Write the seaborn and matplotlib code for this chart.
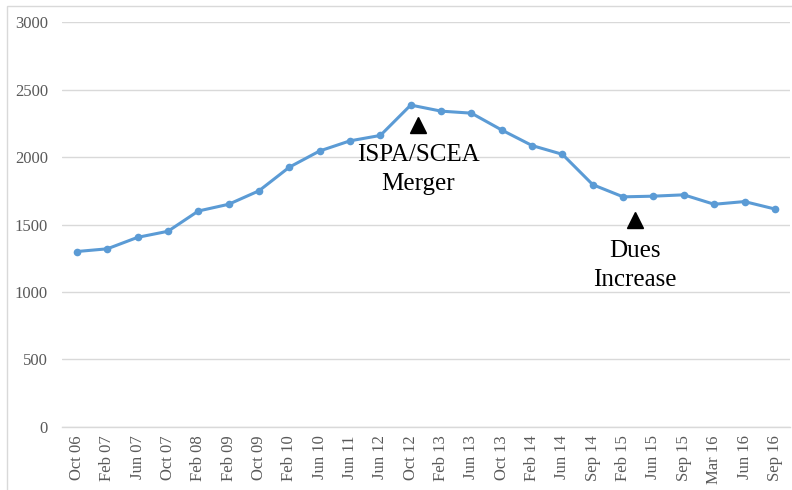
import matplotlib
matplotlib.use("Agg")
import matplotlib.pyplot as plt
import seaborn as sns
import pandas as pd
from matplotlib.patches import Rectangle

# data
periods = ["Oct 06", "Feb 07", "Jun 07", "Oct 07", "Feb 08", "Feb 09", "Oct 09", "Feb 10",
           "Jun 10", "Jun 11", "Jun 12", "Oct 12", "Feb 13", "Jun 13", "Oct 13", "Feb 14",
           "Jun 14", "Sep 14", "Feb 15", "Jun 15", "Sep 15", "Mar 16", "Jun 16", "Sep 16"]
members = [1300, 1320, 1405, 1450, 1600, 1650, 1750, 1925,
           2045, 2120, 2160, 2385, 2340, 2325, 2200, 2085,
           2020, 1795, 1705, 1710, 1720, 1650, 1670, 1615]

event_labels = ["ISPA/SCEA\nMerger", "Dues\nIncrease"]
event_x = [11.25, 18.4]
event_y = [2240, 1530]

y_ticks = [0, 500, 1000, 1500, 2000, 2500, 3000]

LINE_COLOR = "#5B9BD5"
GRID_COLOR = "#D9D9D9"
TEXT_GREY = "#595959"

sns.set_theme(style="white")
plt.rcParams["font.family"] = ["Liberation Serif", "DejaVu Serif"]

df = pd.DataFrame({"period": periods, "members": members})

fig = plt.figure(figsize=(7.92, 4.90), dpi=100)
ax = fig.add_axes([0.078, 0.1286, 0.9195, 0.8264])

sns.lineplot(data=df, x="period", y="members", ax=ax, color=LINE_COLOR,
             linewidth=2.2, marker="o", markersize=5.5, markeredgewidth=0,
             sort=False)

ax.set_ylim(0, 3000)
ax.set_xlim(-0.5, len(periods) - 0.5)
ax.set_yticks(y_ticks)
ax.set_yticklabels([str(v) for v in y_ticks], fontsize=12, color=TEXT_GREY)
ax.set_xticks(range(len(periods)))
ax.set_xticklabels(periods, rotation=90, fontsize=12, color=TEXT_GREY)
ax.tick_params(axis="y", length=0, pad=10)
ax.tick_params(axis="x", length=0, pad=6)
ax.yaxis.grid(True, color=GRID_COLOR, linewidth=1)
ax.set_axisbelow(True)
ax.set_xlabel("")
ax.set_ylabel("")
for side in ["top", "right", "left"]:
    ax.spines[side].set_visible(False)
ax.spines["bottom"].set_color(GRID_COLOR)
ax.spines["bottom"].set_linewidth(1)

# event markers and labels
for lab, xv, yv in zip(event_labels, event_x, event_y):
    ax.plot(xv, yv, marker="^", color="black", markersize=11.5, linestyle="none")
    ax.annotate(lab, xy=(xv, yv), xytext=(0, -14), textcoords="offset points",
                ha="center", va="top", fontsize=18, color="black", linespacing=1.4)

# chart border like the spreadsheet export
fig.patches.append(Rectangle((7 / 792, -0.01), 1.0, 1 - 6 / 490 + 0.01,
                             transform=fig.transFigure, fill=False,
                             edgecolor=GRID_COLOR, linewidth=1))

fig.savefig("out.png", dpi=100)
